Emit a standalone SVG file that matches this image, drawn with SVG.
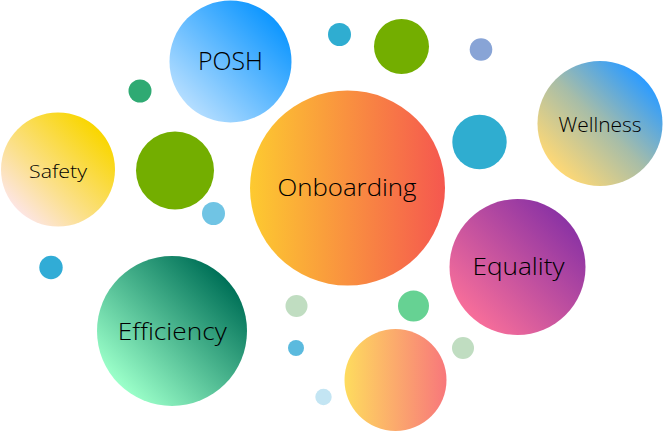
<svg xmlns="http://www.w3.org/2000/svg" width="666" height="431" viewBox="0 0 666 431">
<defs>
<linearGradient id="gPosh" x1="0.15" y1="0.85" x2="0.85" y2="0.15"><stop offset="0" stop-color="#b3ddff"/><stop offset="1" stop-color="#0f97ff"/></linearGradient>
<linearGradient id="gSafety" x1="0.1" y1="0.9" x2="0.85" y2="0.15"><stop offset="0" stop-color="#fde6f2"/><stop offset="0.4" stop-color="#fbe08c"/><stop offset="1" stop-color="#f9d600"/></linearGradient>
<linearGradient id="gOnb" x1="0" y1="0" x2="1" y2="0"><stop offset="0" stop-color="#fdca30"/><stop offset="1" stop-color="#f5574f"/></linearGradient>
<linearGradient id="gWell" x1="0.15" y1="0.85" x2="0.85" y2="0.15"><stop offset="0" stop-color="#fdd876"/><stop offset="0.5" stop-color="#a7bda8"/><stop offset="1" stop-color="#2d9cff"/></linearGradient>
<linearGradient id="gEq" x1="0.15" y1="0.85" x2="0.85" y2="0.15"><stop offset="0" stop-color="#f76e9a"/><stop offset="1" stop-color="#8c33a4"/></linearGradient>
<linearGradient id="gEff" x1="0.15" y1="0.85" x2="0.85" y2="0.15"><stop offset="0" stop-color="#9bffc9"/><stop offset="1" stop-color="#007158"/></linearGradient>
<linearGradient id="gOr" x1="0" y1="0" x2="1" y2="0"><stop offset="0" stop-color="#fedc5e"/><stop offset="1" stop-color="#f8777b"/></linearGradient>
</defs>
<style>
text{font-family:"Open Sans","Liberation Sans",sans-serif;font-weight:300;fill:#000;text-anchor:middle}
</style>
<rect width="666" height="431" fill="#ffffff"/>
<g id="dots">
<circle cx="140" cy="91" r="11.5" fill="#2faa73"/>
<circle cx="175" cy="170.5" r="39" fill="#73ae00"/>
<circle cx="213.5" cy="213.5" r="11.5" fill="#70c4e4"/>
<circle cx="339.5" cy="34.5" r="11.5" fill="#2fadd1"/>
<circle cx="401.5" cy="46.5" r="27.5" fill="#73ae00"/>
<circle cx="481" cy="49.5" r="11.3" fill="#88a4d6"/>
<circle cx="479.5" cy="142" r="27.2" fill="#2fadd0"/>
<circle cx="51" cy="267.5" r="11.7" fill="#31acd6"/>
<circle cx="296.5" cy="306" r="11" fill="#c0ddc1"/>
<circle cx="296" cy="348" r="8" fill="#5bbade"/>
<circle cx="323.5" cy="397" r="8.2" fill="#c3e5f3"/>
<circle cx="413.5" cy="306" r="15.5" fill="#66d293"/>
<circle cx="463" cy="348" r="11" fill="#c0ddc1"/>
<circle cx="395.5" cy="380" r="51" fill="url(#gOr)"/>
</g>
<g id="posh"><circle cx="230.5" cy="61.5" r="61" fill="url(#gPosh)"/><text x="230.5" y="70" font-size="25" textLength="65" lengthAdjust="spacingAndGlyphs">POSH</text></g>
<g id="safety"><circle cx="58" cy="169.5" r="57" fill="url(#gSafety)"/><text x="58" y="178" font-size="19" textLength="58" lengthAdjust="spacingAndGlyphs">Safety</text></g>
<g id="onboarding"><circle cx="347.5" cy="188" r="97.5" fill="url(#gOnb)"/><text x="347" y="196" font-size="24" textLength="139" lengthAdjust="spacingAndGlyphs">Onboarding</text></g>
<g id="wellness"><circle cx="600" cy="123.5" r="62.5" fill="url(#gWell)"/><text x="600" y="132.3" font-size="20" textLength="83" lengthAdjust="spacingAndGlyphs">Wellness</text></g>
<g id="equality"><circle cx="517.5" cy="267" r="68" fill="url(#gEq)"/><text x="518.5" y="275" font-size="24" textLength="92" lengthAdjust="spacingAndGlyphs">Equality</text></g>
<g id="efficiency"><circle cx="172" cy="331" r="75" fill="url(#gEff)"/><text x="172.2" y="340" font-size="24" textLength="109" lengthAdjust="spacingAndGlyphs">Efficiency</text></g>
<g id="connectors"></g>
</svg>
